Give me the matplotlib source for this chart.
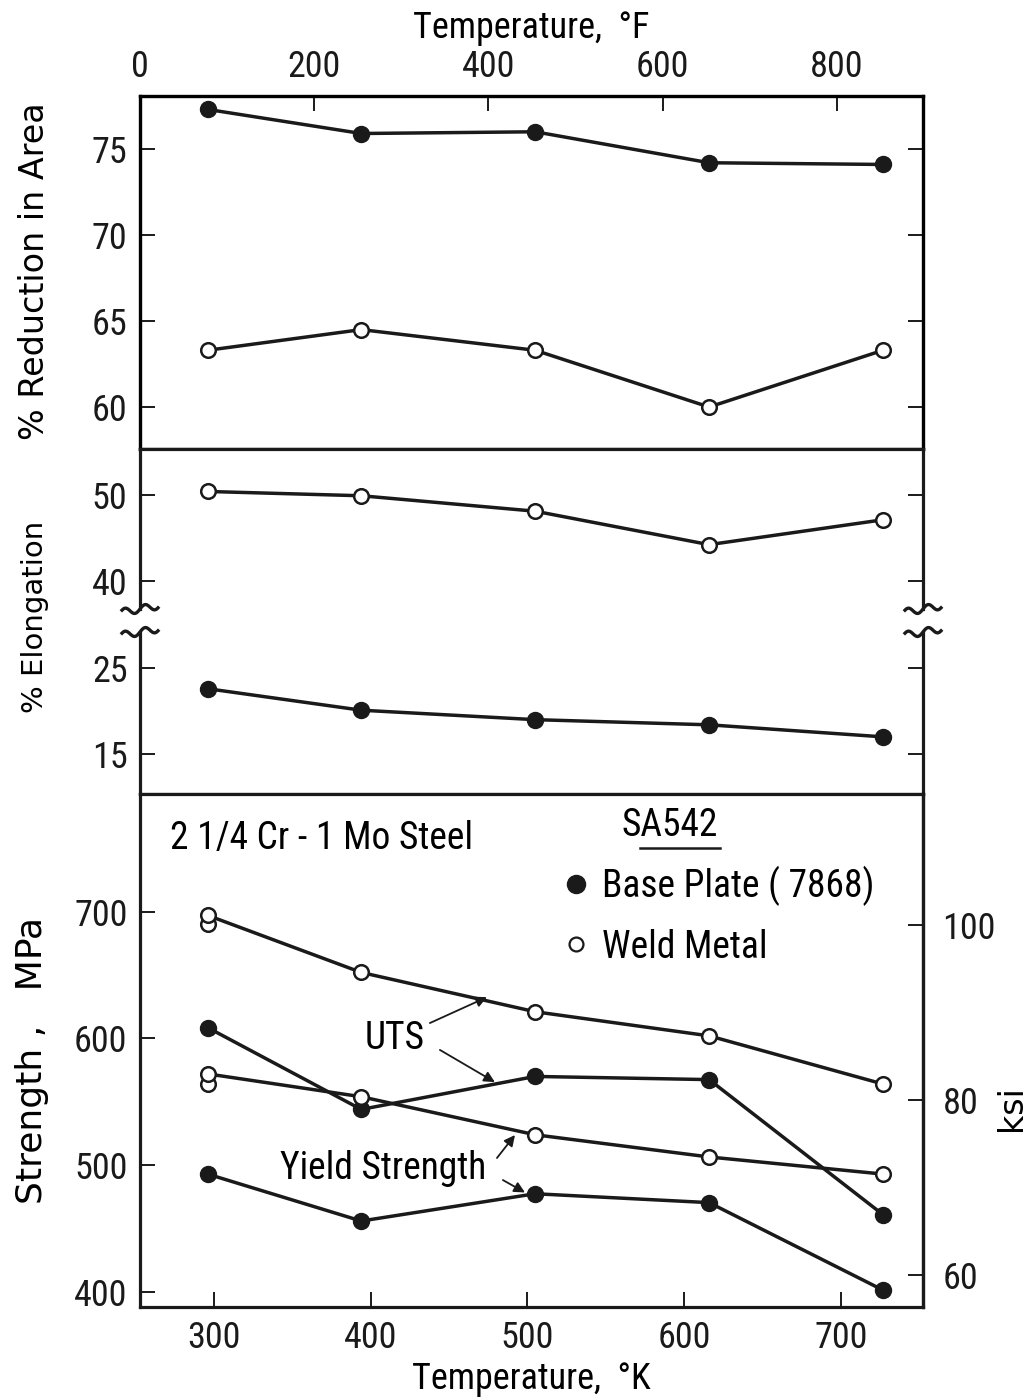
import numpy as np
import matplotlib
matplotlib.use('Agg')
import matplotlib.pyplot as plt
import matplotlib.transforms as mtransforms
from matplotlib.lines import Line2D

# ---------------- data ----------------
temp_K = [296, 394, 505, 616, 727]          # test temperatures (75, 250, 450, 650, 850 F)
ra_base = [77.3, 75.9, 76.0, 74.2, 74.1]    # % reduction in area, base plate
ra_weld = [63.3, 64.5, 63.3, 60.0, 63.3]    # % reduction in area, weld metal
el_weld = [50.4, 49.9, 48.1, 44.2, 47.1]    # % elongation, weld metal
el_base = [22.6, 20.1, 19.0, 18.4, 17.0]    # % elongation, base plate
uts_weld = [697, 652, 621, 602, 564]        # MPa
uts_base = [608.5, 544, 570, 567.5, 461]
ys_weld = [572, 554, 524, 506.5, 493]
ys_base = [493, 456, 477.5, 470.5, 401.5]
repeat_K = [296]                            # duplicate weld tests at room temp
uts_weld_repeat = [690]
ys_weld_repeat = [564]

ticks_F = [0, 200, 400, 600, 800]
ticks_K = [300, 400, 500, 600, 700]
ticks_ra = [60, 65, 70, 75]
ticks_el_hi = [40, 50]
ticks_el_lo = [15, 25]
ticks_mpa = [400, 500, 600, 700]
ticks_ksi = [60, 80, 100]

# ---------------- style ----------------
K = '#1a1a1a'
NARROW = ['Roboto Condensed', 'DejaVu Sans']
WIDE = ['DejaVu Sans']
plt.rcParams['font.family'] = NARROW
plt.rcParams['font.stretch'] = 'condensed'
TFS = 26
AFS = 27
W, H = 1034, 1400
fig = plt.figure(figsize=(W / 100, H / 100), dpi=100)

LPX, RPX = 140, 923
def box(top, bot):
    return [LPX / W, 1 - bot / H, (RPX - LPX) / W, (bot - top) / H]

XLIM = (252.8, 752.5)

def style(ax):
    for s in ax.spines.values():
        s.set_linewidth(2.3)
        s.set_color(K)
    ax.tick_params(direction='in', length=11, width=1.4, colors=K,
                   labelsize=TFS, pad=9)
    ax.set_xlim(*XLIM)

def series(ax, x, y, filled):
    if filled:
        ax.plot(x, y, '-o', color=K, lw=2.5, ms=11.5, mfc=K, mec=K, zorder=3,
                clip_on=False)
    else:
        ax.plot(x, y, '-o', color=K, lw=2.5, ms=10.5, mfc='white', mec=K,
                mew=1.8, zorder=3, clip_on=False)

# ---------------- panel 1: reduction in area ----------------
ax1 = fig.add_axes(box(96, 449))
style(ax1)
ax1.set_ylim(57.56, 78.08)
ax1.set_yticks(ticks_ra)
series(ax1, temp_K, ra_base, True)
series(ax1, temp_K, ra_weld, False)

axF = ax1.twiny()
axF.set_xlim(0, 899)
axF.set_xticks(ticks_F)
for s in axF.spines.values():
    s.set_linewidth(2.3)
axF.tick_params(axis='x', direction='in', length=11, width=1.4, colors=K,
                labelsize=TFS, pad=8, top=True, bottom=False)
axF.set_xlabel('Temperature,  °F', fontsize=TFS, labelpad=8)
ax1.tick_params(left=True, right=True, bottom=False, labelbottom=False,
                top=False, labeltop=False)

# ---------------- panel 2: elongation (broken axis) ----------------
ax2a = fig.add_axes(box(449, 609))
style(ax2a)
ax2a.set_ylim(36.7, 55.35)
ax2a.set_yticks(ticks_el_hi)
ax2a.spines['bottom'].set_visible(False)
ax2a.tick_params(left=True, right=True, bottom=False, labelbottom=False)
series(ax2a, temp_K, el_weld, False)

ax2b = fig.add_axes(box(632, 794))
style(ax2b)
ax2b.set_ylim(10.35, 29.2)
ax2b.set_yticks(ticks_el_lo)
ax2b.spines['top'].set_visible(False)
ax2b.tick_params(left=True, right=True, bottom=False, labelbottom=False)
series(ax2b, temp_K, el_base, True)

# break squiggles
xs = np.linspace(-0.18, 0.18, 60)
wave = 0.035 * np.sin(2 * np.pi * xs / 0.2) + 0.18 * xs
for ax, yy in ((ax2a, 0.0), (ax2b, 1.0)):
    for xx in (0.0, 1.0):
        tr = fig.dpi_scale_trans + mtransforms.ScaledTranslation(xx, yy, ax.transAxes)
        ax.plot(xs, wave, color=K, lw=2.4, transform=tr, clip_on=False)

# ---------------- panel 3: strength ----------------
ax3 = fig.add_axes(box(794, 1307))
style(ax3)
ax3.set_ylim(388.2, 792.7)
ax3.set_yticks(ticks_mpa)
ax3.set_xticks(ticks_K)
ax3.tick_params(left=True, right=False, top=False, bottom=True)
series(ax3, temp_K, uts_weld, False)
series(ax3, temp_K, uts_base, True)
series(ax3, temp_K, ys_weld, False)
series(ax3, temp_K, ys_base, True)
ax3.plot(repeat_K, uts_weld_repeat, 'o', ms=10.5, mfc='white', mec=K, mew=1.8,
         zorder=2.9)
ax3.plot(repeat_K, ys_weld_repeat, 'o', ms=10.5, mfc='white', mec=K, mew=1.8,
         zorder=2.9)

MPA_PER_KSI = 6.894757
sec = ax3.secondary_yaxis('right', functions=(lambda m: m / MPA_PER_KSI,
                                              lambda k: k * MPA_PER_KSI))
sec.set_yticks(ticks_ksi)
sec.spines['right'].set_linewidth(2.3)
sec.tick_params(direction='in', length=11, width=1.4, colors=K,
                labelsize=TFS, pad=14)

ax3.set_xlabel('Temperature,  °K', fontsize=TFS, labelpad=4)

# text annotations
ax3.text(271.9, 758, '2 1/4 Cr - 1 Mo Steel', fontsize=AFS, ha='left',
         va='center')
ax3.text(591, 768, 'SA542', fontsize=AFS, ha='center', va='center')
ax3.plot([571.9, 623], [750.2, 750.2], color=K, lw=1.8)
ax3.text(415.5, 600.3, 'UTS', fontsize=AFS, ha='center', va='center')
ax3.text(408, 497.8, 'Yield Strength', fontsize=AFS, ha='center',
         va='center')
arrows = [((437.8, 612.1), (474.2, 632.5)),
          ((444.2, 590.9), (479.3, 565.5)),
          ((480.6, 505.7), (492.1, 523.8)),
          ((484.4, 488.3), (498.5, 478.5))]
for tail, head in arrows:
    ax3.annotate('', xy=head, xytext=tail,
                 arrowprops=dict(arrowstyle='-|>', lw=1.3, color=K,
                                 mutation_scale=16, shrinkA=0, shrinkB=0))

handles = [Line2D([], [], ls='none', marker='o', ms=13, mfc=K, mec=K),
           Line2D([], [], ls='none', marker='o', ms=10, mfc='white', mec=K,
                  mew=1.6)]
ax3.legend(handles, ['Base Plate ( 7868)', 'Weld Metal'], loc='upper left',
           bbox_to_anchor=(0.54, 0.86), frameon=False, fontsize=AFS,
           handlelength=0.7, handletextpad=0.35, labelspacing=0.6,
           borderpad=0, borderaxespad=0)

# axis titles
fig.text(35 / W, 1 - 271 / H, '% Reduction in Area', rotation=90,
         ha='center', va='center', fontsize=24, family=WIDE, stretch='normal')
fig.text(35 / W, 1 - 617 / H, '% Elongation', rotation=90, ha='center',
         va='center', fontsize=21, family=WIDE, stretch='normal')
fig.text(32 / W, 1 - 1060 / H, 'Strength ,   MPa', rotation=90, ha='center',
         va='center', fontsize=26, family=WIDE, stretch='normal')
fig.text(1012 / W, 1 - 1108 / H, 'ksi', rotation=90, ha='center',
         va='center', fontsize=24, family=WIDE, stretch='normal')

fig.savefig('out.png', dpi=100)
